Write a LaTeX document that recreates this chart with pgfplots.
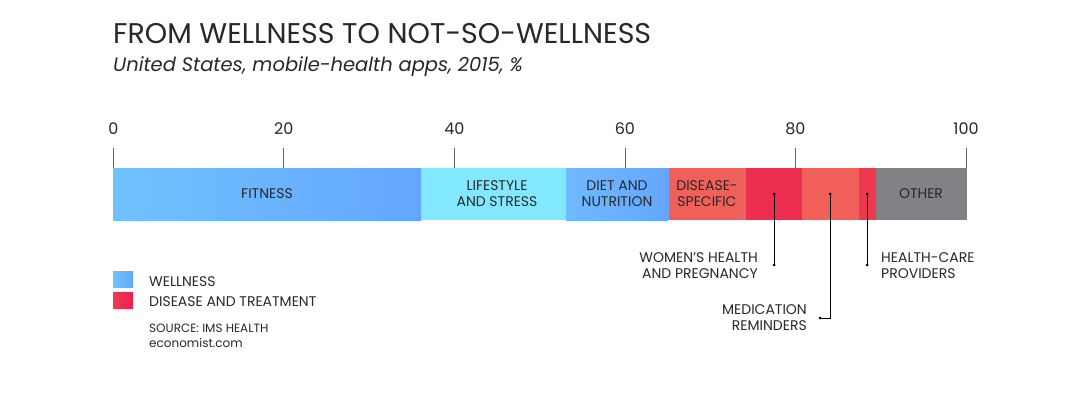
\documentclass[border=0pt]{standalone}
\usepackage{pgfplots}
\pgfplotsset{compat=1.18}
\usepackage{fontspec}
\setmainfont{Poppins}
\definecolor{txt}{RGB}{40,40,40}
\definecolor{fitA}{RGB}{112,194,255}
\definecolor{fitB}{RGB}{100,166,255}
\definecolor{life}{RGB}{130,232,255}
\definecolor{dietA}{RGB}{112,186,255}
\definecolor{dietB}{RGB}{100,166,255}
\definecolor{dis}{RGB}{240,96,90}
\definecolor{wom}{RGB}{237,46,80}
\definecolor{womA}{RGB}{238,58,82}
\definecolor{womB}{RGB}{236,32,80}
\definecolor{med}{RGB}{240,96,88}
\definecolor{hc}{RGB}{238,56,80}
\definecolor{oth}{RGB}{131,128,134}
\definecolor{tk}{RGB}{100,100,100}
\begin{document}
\begin{tikzpicture}[x=1pt,y=1pt]
\fill[white] (0,0) rectangle (1080,-394);
\node[anchor=base west, font=\fontsize{28.5}{32}\selectfont, text=txt, inner sep=0] at (113,-43) {FROM WELLNESS TO NOT-SO-WELLNESS};
\node[anchor=base west, font=\fontsize{19.5}{22}\selectfont\itshape, text=txt, inner sep=0] at (113,-71) {United States, mobile-health apps, 2015, \%};
\begin{axis}[
  at={(113.3pt,-220pt)}, anchor=south west,
  scale only axis, width=852.7pt, height=52pt,
  xmin=0, xmax=100, ymin=0, ymax=1,
  xbar stacked, bar width=52pt,
  axis x line*=top, axis y line=none,
  axis line style={draw=none},
  xtick={0,20,...,100},
  major tick length=20pt, tick align=outside,
  tick style={tk, line width=0.8pt},
  xticklabel style={font=\fontsize{16}{18}\selectfont, text=txt, yshift=10pt},
  /pgf/number format/assume math mode=true,
  clip=false,
]
\addplot[draw=none, left color=fitA, right color=fitB] coordinates {(36.1,0.5)};
\addplot[draw=none, fill=life] coordinates {(17.0,0.5)};
\addplot[draw=none, left color=dietA, right color=dietB] coordinates {(12.0,0.5)};
\addplot[draw=none, fill=dis] coordinates {(9.1,0.5)};
\addplot[draw=none, fill=wom] coordinates {(6.6,0.5)};
\addplot[draw=none, fill=med] coordinates {(6.6,0.5)};
\addplot[draw=none, fill=hc] coordinates {(2.1,0.5)};
\addplot[draw=none, fill=oth] coordinates {(10.6,0.5)};
\end{axis}
% bar labels
\begin{scope}[every node/.style={font=\fontsize{14}{16}\selectfont, text=txt, align=center, inner sep=0}]
\node at (267,-194) {FITNESS};
\node at (497,-194) {LIFESTYLE\\AND STRESS};
\node at (617,-194) {DIET AND\\NUTRITION};
\node at (707,-194) {DISEASE-\\SPECIFIC};
\node at (921,-194) {OTHER};
\end{scope}
% callouts
\draw[black, line width=0.7pt] (774,-194) -- (774,-265);
\fill (774,-194) circle (1.5); \fill (774,-265) circle (1.5);
\draw[black, line width=0.7pt] (830,-194) -- (830,-318) -- (820,-318);
\fill (830,-194) circle (1.5); \fill (820,-318) circle (1.5);
\draw[black, line width=0.7pt] (867,-194) -- (867,-265);
\fill (867,-194) circle (1.5); \fill (867,-265) circle (1.5);
\begin{scope}[every node/.style={font=\fontsize{14}{16}\selectfont, text=txt, inner sep=0}]
\node[anchor=east, align=right] at (758,-266) {WOMEN'S HEALTH\\AND PREGNANCY};
\node[anchor=east, align=right] at (807,-318) {MEDICATION\\REMINDERS};
\node[anchor=west, align=left] at (881,-266) {HEALTH-CARE\\PROVIDERS};
\end{scope}
% legend
\shade[left color=fitA, right color=fitB] (113,-271) rectangle (133,-287);
\shade[left color=womA, right color=womB] (113,-292) rectangle (133,-308);
\node[anchor=west, font=\fontsize{14}{16}\selectfont, text=txt, inner sep=0] at (149,-282) {WELLNESS};
\node[anchor=west, font=\fontsize{14}{16}\selectfont, text=txt, inner sep=0] at (149,-302) {DISEASE AND TREATMENT};
\node[anchor=west, font=\fontsize{12}{14}\selectfont, text=txt, inner sep=0] at (149,-328) {SOURCE: IMS HEALTH};
\node[anchor=west, font=\fontsize{12}{14}\selectfont, text=txt, inner sep=0] at (149,-343) {economist.com};
\end{tikzpicture}
\end{document}
